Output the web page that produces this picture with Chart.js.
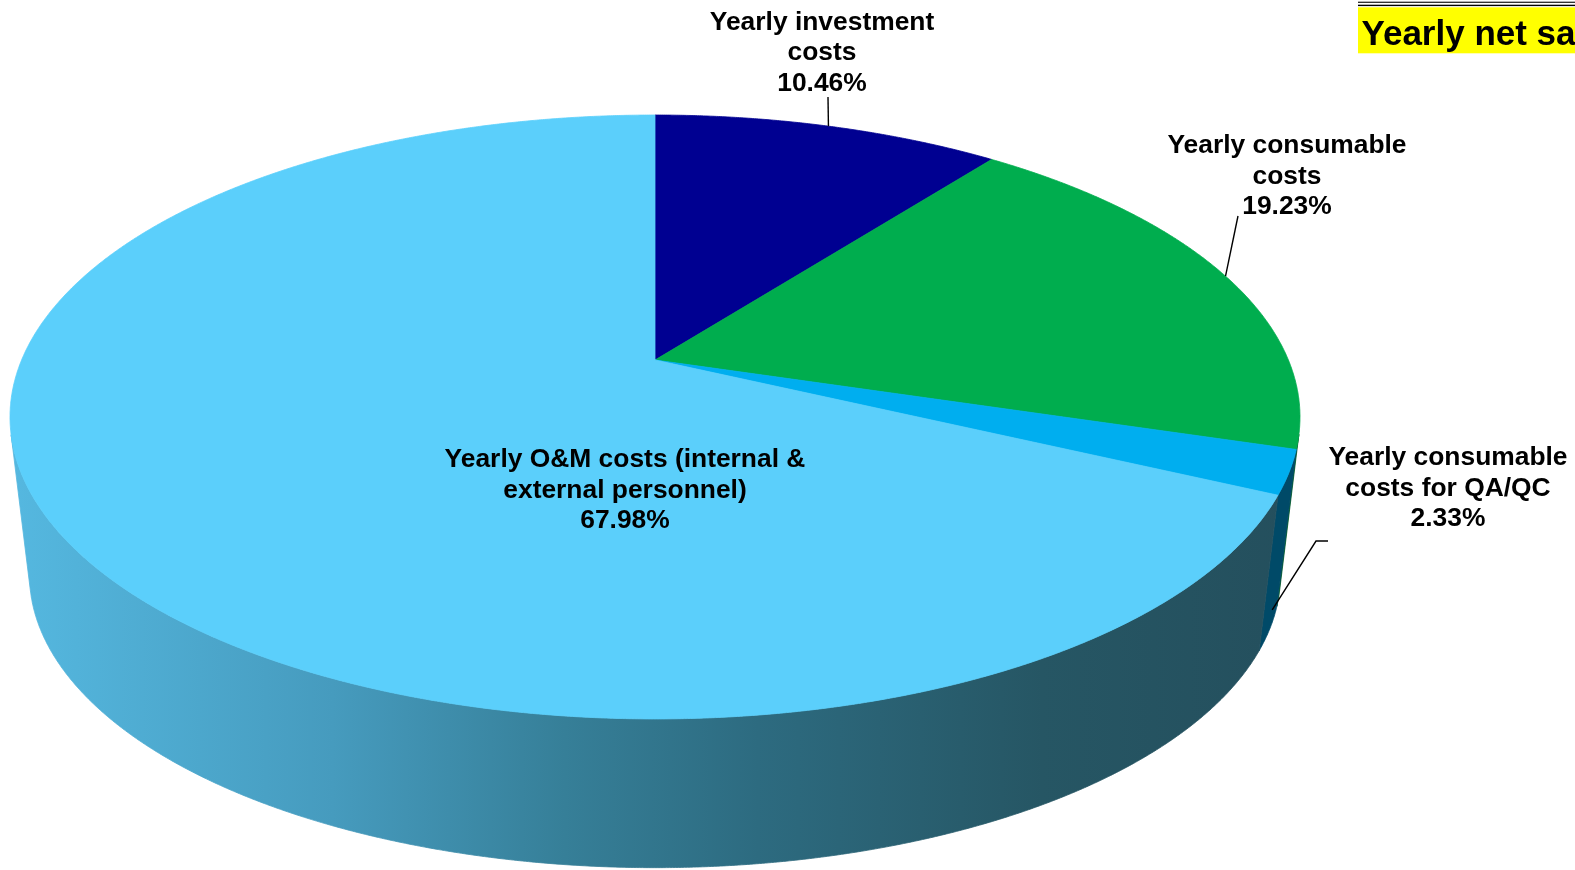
<!DOCTYPE html>
<html>
<head>
<meta charset="utf-8">
<title>Yearly cost breakdown</title>
<script src="https://cdn.jsdelivr.net/npm/chart.js@4.4.1/dist/chart.umd.min.js"></script>
<style>
  html, body { margin: 0; padding: 0; background: #fff; overflow: hidden; }
  #wrap { position: relative; width: 1575px; height: 870px; }
</style>
</head>
<body>
<div id="wrap"><canvas id="costChart"></canvas></div>
<script>
// cost categories, each label split into the lines it is printed on
const categories = [
  ['Yearly investment', 'costs'],
  ['Yearly consumable', 'costs'],
  ['Yearly consumable', 'costs for QA/QC'],
  ['Yearly O&M costs (internal &', 'external personnel)']
];
// share of the yearly total, percent
const shares = [10.46, 19.23, 2.33, 67.98];
const heading = 'Yearly net savings';

(function () {
  'use strict';

  const topColors = ['#000091', '#00AD4E', '#00AEEF', '#5BCFFB'];
  const sideColors = ['#000050', '#005A28', '#004A68', null]; // null -> shaded gradient

  // tilted disc seen in perspective: centre, radii, foreshortening,
  // vanishing point of the rim and scale of the bottom face
  const G = { cx: 655, cy: 360, a: 633.4, b: 291.2, k: 0.1887, vpY: 5644, s: 0.9698 };

  // label anchor: centre x / first baseline, optional leader start points
  const labelSpots = [
    { x: 822, y: 29.5, leader: [[828, 97]], depth: 0 },
    { x: 1287, y: 153, leader: [[1238, 216]], depth: 0 },
    { x: 1448, y: 465, leader: [[1328, 541], [1316, 541]], depth: 0.88 },
    { x: 625, y: 467, leader: null }
  ];
  const LINE_H = 30.5;
  const FONT = '700 26.4px "Liberation Sans", Arial, sans-serif';

  // canvas angle (0 = right, clockwise) + depth (0 top, 1 bottom) -> screen
  function project(angle, depth) {
    const u = Math.cos(angle), v = -Math.sin(angle);
    const den = 1 + G.k * v;
    const x = G.cx + G.a * u / den;
    const y = G.cy - G.b * v / den;
    if (!depth) return { x, y };
    const f = 1 - (1 - G.s) * depth;
    return { x: G.cx + (x - G.cx) * f, y: G.vpY + (y - G.vpY) * f };
  }

  function facesFront(angle) {
    const d = 1e-3;
    const t0 = project(angle, 0), t1 = project(angle + d, 0), b0 = project(angle, 1);
    return (t1.x - t0.x) * (b0.y - t0.y) - (t1.y - t0.y) * (b0.x - t0.x) < 0;
  }

  // angular span of the rim that is turned towards the viewer
  function frontRange() {
    let lo = null, hi = null;
    for (let a = 0; a <= Math.PI; a += 0.001) {
      if (facesFront(a)) { if (lo === null) lo = a; hi = a; }
    }
    return [lo, hi];
  }

  function traceArc(ctx, a1, a2, depth, first) {
    const n = Math.max(2, Math.ceil(Math.abs(a2 - a1) / 0.004));
    for (let i = 0; i <= n; i++) {
      const p = project(a1 + (a2 - a1) * i / n, depth);
      if (first && i === 0) ctx.moveTo(p.x, p.y); else ctx.lineTo(p.x, p.y);
    }
  }

  function rimGradient(ctx) {
    const g = ctx.createLinearGradient(10, 0, 1300, 0);
    g.addColorStop(0, '#55B8E0');
    g.addColorStop(0.25, '#469BBE');
    g.addColorStop(0.43, '#367F98');
    g.addColorStop(0.58, '#2D6B80');
    g.addColorStop(0.8, '#265664');
    g.addColorStop(1, '#244F5D');
    return g;
  }

  const pie3d = {
    id: 'pie3d',
    beforeDatasetsDraw(chart) {
      const ctx = chart.ctx;
      const arcs = chart.getDatasetMeta(0).data;
      const [lo, hi] = frontRange();
      ctx.save();
      ctx.lineJoin = 'round';

      // rim first, only the part facing us
      arcs.forEach((arc, i) => {
        const a1 = Math.max(arc.startAngle, lo), a2 = Math.min(arc.endAngle, hi);
        if (a2 <= a1) return;
        const fill = sideColors[i] || rimGradient(ctx);
        ctx.beginPath();
        traceArc(ctx, a1, a2, 0, true);
        traceArc(ctx, a2, a1, 1, false);
        ctx.closePath();
        ctx.fillStyle = fill;
        ctx.strokeStyle = fill;
        ctx.lineWidth = 0.8;
        ctx.fill();
        ctx.stroke();
      });

      // top faces of the slices
      arcs.forEach((arc, i) => {
        ctx.beginPath();
        ctx.moveTo(G.cx, G.cy);
        traceArc(ctx, arc.startAngle, arc.endAngle, 0, false);
        ctx.closePath();
        ctx.fillStyle = topColors[i];
        ctx.strokeStyle = topColors[i];
        ctx.lineWidth = 0.8;
        ctx.fill();
        ctx.stroke();
      });
      ctx.restore();
      return false; // the flat arcs are replaced by the drawing above
    },
    afterDraw(chart) {
      const ctx = chart.ctx;
      const arcs = chart.getDatasetMeta(0).data;
      const values = chart.data.datasets[0].data;
      ctx.save();

      // leader lines
      ctx.strokeStyle = '#000';
      ctx.lineWidth = 1.4;
      arcs.forEach((arc, i) => {
        const spot = labelSpots[i];
        if (!spot.leader) return;
        const end = project((arc.startAngle + arc.endAngle) / 2, spot.depth);
        ctx.beginPath();
        spot.leader.forEach((p, j) => j ? ctx.lineTo(p[0], p[1]) : ctx.moveTo(p[0], p[1]));
        ctx.lineTo(end.x, end.y);
        ctx.stroke();
      });

      // data labels
      ctx.font = FONT;
      ctx.fillStyle = '#000';
      ctx.textAlign = 'center';
      ctx.textBaseline = 'alphabetic';
      chart.data.labels.forEach((lines, i) => {
        const spot = labelSpots[i];
        const text = lines.concat(values[i].toFixed(2) + '%');
        text.forEach((t, j) => ctx.fillText(t, spot.x, spot.y + j * LINE_H));
      });

      // heading box in the corner, runs off the right edge
      ctx.fillStyle = '#000';
      ctx.fillRect(1358, 1.7, 230, 1.1);
      ctx.fillRect(1358, 4.7, 230, 1.4);
      ctx.fillStyle = '#FFFF00';
      ctx.fillRect(1358, 7.3, 230, 46);
      ctx.fillStyle = '#000';
      ctx.textAlign = 'left';
      ctx.font = '700 35px "Liberation Sans", Arial, sans-serif';
      ctx.fillText(heading, 1361.5, 44.5);
      ctx.restore();
    }
  };

  new Chart(document.getElementById('costChart'), {
    type: 'pie',
    data: {
      labels: categories,
      datasets: [{ data: shares, backgroundColor: topColors, borderWidth: 0 }]
    },
    options: {
      responsive: true,
      maintainAspectRatio: false,
      animation: false,
      events: [],
      layout: { padding: 0 },
      plugins: { legend: { display: false }, tooltip: { enabled: false } }
    },
    plugins: [pie3d]
  });
})();
</script>
</body>
</html>
